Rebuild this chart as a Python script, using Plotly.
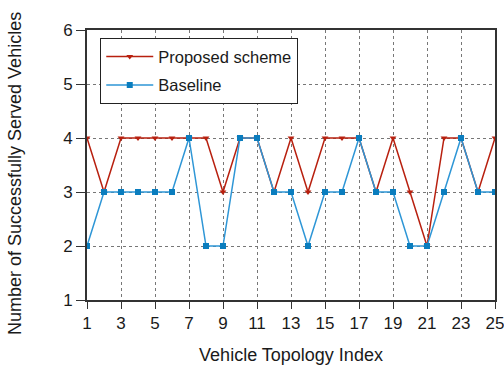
import plotly.graph_objects as go

topology_index = list(range(1, 26))
proposed_scheme = [4, 3, 4, 4, 4, 4, 4, 4, 3, 4, 4, 3, 4, 3, 4, 4, 4, 3, 4, 3, 2, 4, 4, 3, 4]
baseline = [2, 3, 3, 3, 3, 3, 4, 2, 2, 4, 4, 3, 3, 2, 3, 3, 4, 3, 3, 2, 2, 3, 4, 3, 3]
x_ticks = list(range(1, 26, 2))
y_ticks = [1, 2, 3, 4, 5, 6]

fig = go.Figure()
fig.add_trace(go.Scatter(
    x=topology_index, y=proposed_scheme, name="Proposed scheme",
    mode="lines+markers", legendgroup="a",
    line=dict(color="#B8200F", width=1.5),
    marker=dict(symbol="triangle-down", size=6, color="#B8200F"),
))
fig.add_trace(go.Scatter(
    x=topology_index, y=baseline, name="Baseline",
    mode="lines+markers", legendgroup="b",
    line=dict(color="#2E96D6", width=1.5),
    marker=dict(symbol="square", size=6, color="#0A7DBE"),
))

font_family = "Liberation Sans, Arial, sans-serif"
fig.update_layout(
    width=504, height=367,
    margin=dict(l=87, r=9, t=30, b=67),
    paper_bgcolor="white", plot_bgcolor="white",
    font=dict(family=font_family, size=17, color="#1a1a1a"),
    showlegend=True,
    legend=dict(
        x=0.032, y=0.97, xanchor="left", yanchor="top",
        bgcolor="white", bordercolor="#222", borderwidth=1.2,
        font=dict(size=16.5),
        itemwidth=47,
        tracegroupgap=4,
    ),
    xaxis=dict(
        range=[1, 25], tickvals=x_ticks, ticktext=[str(v) for v in x_ticks],
        title=dict(text="Vehicle Topology Index", standoff=16, font=dict(size=18)),
        showline=True, linecolor="#333", linewidth=1.5, mirror=True,
        ticks="outside", ticklen=7, tickcolor="#333", tickwidth=1.2,
        showgrid=True, gridcolor="#777", griddash="dot", gridwidth=1,
        zeroline=False, tickfont=dict(size=17), automargin=False,
        ticklabeloverflow="allow",
    ),
    yaxis=dict(
        range=[1, 6], tickvals=y_ticks,
        showline=True, linecolor="#333", linewidth=2, mirror=True,
        ticks="outside", ticklen=9, tickcolor="#333", tickwidth=1.2,
        showgrid=True, gridcolor="#777", griddash="dot", gridwidth=1,
        zeroline=False, tickfont=dict(size=17), automargin=False,
        ticklabeloverflow="allow",
    ),
    annotations=[dict(
        text="Number of Successfully Served Vehicles",
        xref="paper", yref="paper", x=(15 - 87) / 408, y=(300 - 174) / 270,
        xanchor="center", yanchor="middle", textangle=-90, showarrow=False,
        font=dict(size=18, family=font_family, color="#1a1a1a"),
    )],
)

fig.write_html("out.html", config={"displayModeBar": False},
               post_script="document.body.style.margin='0px';")
